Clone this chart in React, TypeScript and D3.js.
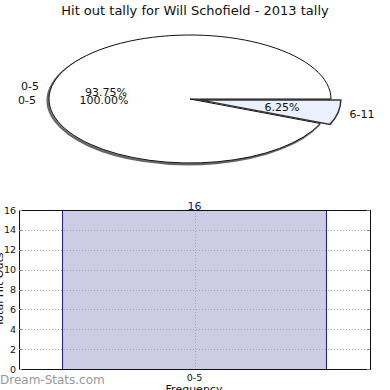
import React from "react";
import * as d3 from "d3";

const title = "Hit out tally for Will Schofield - 2013 tally";
const pieLabels = ["6-11", "0-5"];
const pieValues = [1, 15];
const pieFills = ["#eaf0fc", "#ffffff"];
const barCategories = ["0-5"];
const barValues = [16];
const yTicks = [0, 2, 4, 6, 8, 10, 12, 14, 16];

const W = 390;
const H = 390;
const cx = 190, cy = 99, rx = 141, ry = 64;

export default function App() {
  const pie = d3
    .pie<number>()
    .sort(null)
    .startAngle(Math.PI / 2)
    .endAngle(Math.PI / 2 + 2 * Math.PI)(pieValues);
  const arc = d3.arc<d3.PieArcDatum<number>>().innerRadius(0).outerRadius(rx);
  const total = d3.sum(pieValues);
  const sy = ry / rx;

  const left = 19, right = 370, top = 210, bottom = 369;
  const x = d3.scaleBand<string>().domain(barCategories).range([left, right]).paddingInner(0.1416).paddingOuter(0.1416);
  const y = d3.scaleLinear().domain([0, 16]).range([bottom, top]);
  const font = "DejaVu Sans, sans-serif";

  const small = pie[0];
  const big = pie[1];
  const mid = (small.startAngle + small.endAngle) / 2;
  const ex = Math.sin(mid) * 10;
  const ey = -Math.cos(mid) * 10 * sy;

  return (
    <svg width={W} height={H} style={{ position: "absolute", left: 0, top: 0 }} fontFamily={font}>
      <rect width={W} height={H} fill="#fff" />
      <text x={195} y={15} textAnchor="middle" fontSize={13} fill="#111">{title}</text>

      {/* shadow of main slice */}
      <g transform={`translate(${cx - 1.5},${cy + 1.5}) scale(1,${sy})`}>
        <path d={arc(big) || ""} fill="#888" stroke="#666" strokeWidth={2} vectorEffect="non-scaling-stroke" />
      </g>
      <g transform={`translate(${cx},${cy}) scale(1,${sy})`}>
        <path d={arc(big) || ""} fill={pieFills[1]} stroke="#111" strokeWidth={1} vectorEffect="non-scaling-stroke" />
      </g>
      {/* exploded small slice */}
      <g transform={`translate(${cx + ex},${cy + ey}) scale(1,${sy})`}>
        <path d={arc(small) || ""} fill={pieFills[0]} stroke="#333" strokeWidth={1.5} vectorEffect="non-scaling-stroke" />
      </g>

      <text x={30} y={90} textAnchor="middle" fontSize={11} fill="#111">{pieLabels[1]}</text>
      <text x={27} y={104} textAnchor="middle" fontSize={11} fill="#111">{pieLabels[1]}</text>
      <text x={106} y={96} textAnchor="middle" fontSize={11} fill="#111">{((pieValues[1] / total) * 100).toFixed(2)}%</text>
      <text x={104} y={104} textAnchor="middle" fontSize={11} fill="#111">{(100).toFixed(2)}%</text>
      <text x={282} y={111} textAnchor="middle" fontSize={11} fill="#111">{((pieValues[0] / total) * 100).toFixed(2)}%</text>
      <text x={362} y={118} textAnchor="middle" fontSize={11} fill="#111">{pieLabels[0]}</text>

      {/* bar chart */}
      {barCategories.map((c, i) => (
        <g key={c}>
          <rect x={x(c)} y={y(barValues[i])} width={x.bandwidth()} height={bottom - y(barValues[i])} fill="#ccccE4" />
          <line x1={x(c)} x2={x(c)} y1={y(barValues[i])} y2={bottom} stroke="#1a1a90" strokeWidth={1} />
          <line x1={(x(c) || 0) + x.bandwidth()} x2={(x(c) || 0) + x.bandwidth()} y1={y(barValues[i])} y2={bottom} stroke="#1a1a90" strokeWidth={1} />
          <text x={(x(c) || 0) + x.bandwidth() / 2} y={top - 0.5} textAnchor="middle" fontSize={11} fill="#1a1a80">{barValues[i]}</text>
        </g>
      ))}
      {yTicks.slice(1, -1).map((t) => (
        <line key={t} x1={left} x2={right} y1={Math.round(y(t)) + 0.5} y2={Math.round(y(t)) + 0.5} stroke="#aaa" strokeDasharray="1,2" />
      ))}
      {barCategories.map((c) => {
        const cxb = Math.round((x(c) || 0) + x.bandwidth() / 2) + 0.5;
        return <line key={c} x1={cxb} x2={cxb} y1={top} y2={bottom} stroke="#aaa" strokeDasharray="1,2" />;
      })}
      <rect x={left + 0.5} y={top + 0.5} width={right - left} height={bottom - top} fill="none" stroke="#111" strokeWidth={1} />
      {yTicks.map((t) => (
        <g key={t}>
          <line x1={left} x2={left + 3} y1={Math.round(y(t)) + 0.5} y2={Math.round(y(t)) + 0.5} stroke="#888" />
          <line x1={right - 3} x2={right} y1={Math.round(y(t)) + 0.5} y2={Math.round(y(t)) + 0.5} stroke="#888" />
          <text x={16} y={y(t) + 3.5} textAnchor="end" fontSize={9.5} fill="#111">{t}</text>
        </g>
      ))}
      {barCategories.map((c) => (
        <text key={c} x={(x(c) || 0) + x.bandwidth() / 2} y={381} textAnchor="middle" fontSize={9.5} fill="#111">{c}</text>
      ))}
      <text x={194} y={393} textAnchor="middle" fontSize={11} fill="#111">Frequency</text>
      <text transform={`translate(3,${(top + bottom) / 2}) rotate(-90)`} textAnchor="middle" fontSize={11} fill="#111">Total Hit Outs</text>
      <text x={0} y={384} fontSize={12} fill="#999">Dream-Stats.com</text>
    </svg>
  );
}
